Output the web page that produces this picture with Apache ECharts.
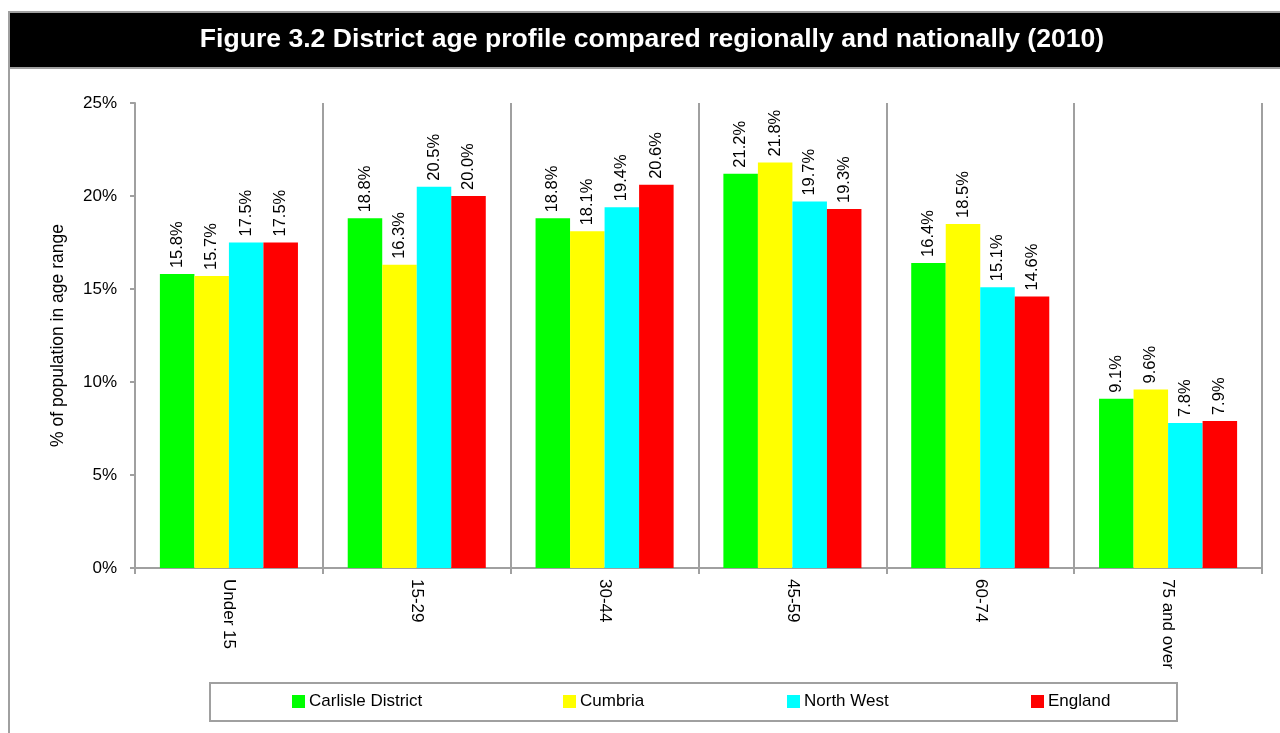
<!DOCTYPE html>
<html>
<head>
<meta charset="utf-8">
<script src="https://cdn.jsdelivr.net/npm/echarts@6/dist/echarts.min.js"></script>
<style>
  html, body { margin: 0; padding: 0; background: #fff; }
  #chart { width: 1280px; height: 733px; }
</style>
</head>
<body>
<div id="chart"></div>
<script>
const categories = ['Under 15', '15-29', '30-44', '45-59', '60-74', '75 and over'];
const seriesNames = ['Carlisle District', 'Cumbria', 'North West', 'England'];
const carlisle = [15.8, 18.8, 18.8, 21.2, 16.4, 9.1];
const cumbria = [15.7, 16.3, 18.1, 21.8, 18.5, 9.6];
const northWest = [17.5, 20.5, 19.4, 19.7, 15.1, 7.8];
const england = [17.5, 20.0, 20.6, 19.3, 14.6, 7.9];
const colors = ['#00ff00', '#ffff00', '#00ffff', '#ff0000'];
const legendLeft = [292, 563, 787, 1031];

const font = '"Liberation Sans", Arial, sans-serif';
const grey = '#a0a0a0';

const chart = echarts.init(document.getElementById('chart'));

function makeSeries(name, data, color) {
  return {
    name: name,
    type: 'bar',
    data: data,
    barGap: 0,
    barCategoryGap: '26.5%',
    itemStyle: { color: color },
    label: {
      show: true,
      position: 'top',
      rotate: 90,
      align: 'left',
      verticalAlign: 'middle',
      distance: 6,
      color: '#000',
      fontFamily: font,
      fontSize: 16.5,
      formatter: p => p.value.toFixed(1) + '%'
    }
  };
}

// one legend per item so the spacing matches the original
const legends = seriesNames.map((name, i) => ({
  left: legendLeft[i],
  top: 693,
  padding: 0,
  itemWidth: 13,
  itemHeight: 13,
  itemGap: 4,
  icon: 'rect',
  data: [name],
  textStyle: { fontFamily: font, fontSize: 17, color: '#000', padding: [0, 0, 0, -1] }
}));

chart.setOption({
  animation: false,
  backgroundColor: '#fff',
  graphic: [
    // frame and title band
    { type: 'line', shape: { x1: 9, y1: 68, x2: 9, y2: 733 }, style: { stroke: grey, lineWidth: 2 } },
    { type: 'rect', shape: { x: 9, y: 12, width: 1280, height: 56 }, style: { fill: '#000', stroke: grey, lineWidth: 2 } },
    {
      type: 'text', x: 652, y: 40,
      style: {
        text: 'Figure 3.2 District age profile compared regionally and nationally (2010)',
        fill: '#fff', font: 'bold 26.6px ' + font, align: 'center', verticalAlign: 'middle'
      }
    },
    // legend box
    { type: 'rect', shape: { x: 210, y: 683, width: 967, height: 38 }, style: { fill: 'none', stroke: grey, lineWidth: 2 } }
  ],
  color: colors,
  legend: legends,
  grid: { left: 135, right: 18, top: 103, bottom: 165 },
  xAxis: {
    type: 'category',
    data: categories,
    axisLine: { lineStyle: { color: grey, width: 2 } },
    axisTick: { show: true, length: 6, lineStyle: { color: grey, width: 2 } },
    splitLine: { show: true, lineStyle: { color: grey, width: 2 } },
    axisLabel: {
      rotate: -90,
      margin: 11,
      color: '#000',
      fontFamily: font,
      fontSize: 17
    }
  },
  yAxis: {
    type: 'value',
    min: 0,
    max: 25,
    interval: 5,
    name: '% of population in age range',
    nameLocation: 'middle',
    nameGap: 68,
    nameTextStyle: { color: '#000', fontFamily: font, fontSize: 17.5 },
    axisLine: { show: true, lineStyle: { color: grey, width: 2 } },
    axisTick: { show: true, length: 5, lineStyle: { color: grey, width: 2 } },
    splitLine: { show: false },
    axisLabel: {
      margin: 18,
      color: '#000',
      fontFamily: font,
      fontSize: 17,
      formatter: v => v + '%'
    }
  },
  series: [
    makeSeries(seriesNames[0], carlisle, colors[0]),
    makeSeries(seriesNames[1], cumbria, colors[1]),
    makeSeries(seriesNames[2], northWest, colors[2]),
    makeSeries(seriesNames[3], england, colors[3])
  ]
});
</script>
</body>
</html>
